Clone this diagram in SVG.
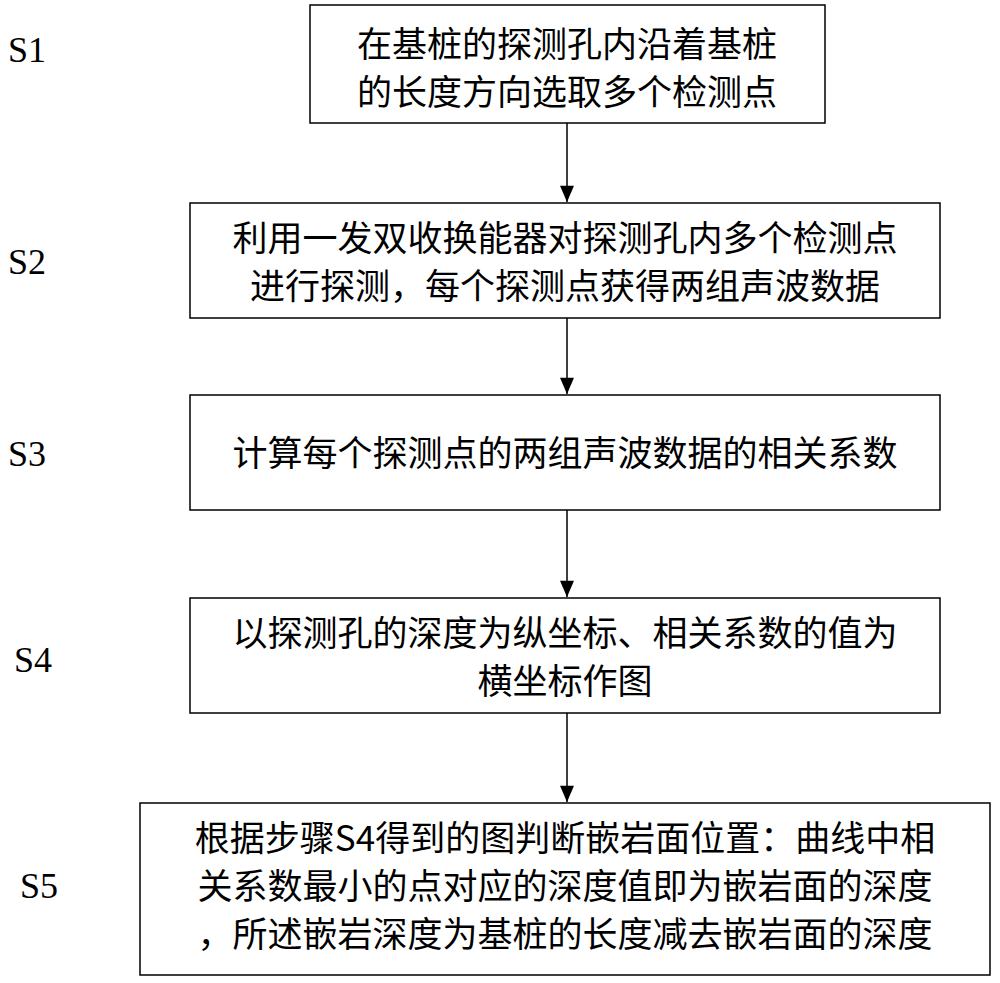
<svg xmlns="http://www.w3.org/2000/svg" width="1000" height="983" viewBox="0 0 1000 983">
<style>
.b{fill:#fff;stroke:#000;stroke-width:1.5}
.t{font-family:"Noto Sans CJK SC","Liberation Serif",serif;font-size:35px;fill:#000;text-anchor:middle}
.s{font-family:"Liberation Serif",serif;font-size:36px;fill:#000}
.c{stroke:#000;stroke-width:1.5;fill:none}
</style>
<defs><marker id="d" viewBox="0 0 14 12" refX="14" refY="6" markerWidth="18" markerHeight="14" orient="auto" markerUnits="userSpaceOnUse"><path d="M0,0L14,6L0,12Z" fill="#000"/></marker></defs>
<g id="labels"><text class="s" x="8" y="62">S1</text><text class="s" x="8" y="274">S2</text><text class="s" x="8" y="466">S3</text><text class="s" x="14" y="672">S4</text><text class="s" x="20" y="898">S5</text></g>
<g id="n1"><rect class="b" x="310" y="5" width="515" height="118"/><text class="t" x="567" y="57">在基桩的探测孔内沿着基桩</text><text class="t" x="567" y="105">的长度方向选取多个检测点</text></g>
<g id="n2"><rect class="b" x="190" y="203" width="750" height="115"/><text class="t" x="565" y="251">利用一发双收换能器对探测孔内多个检测点</text><text class="t" x="565" y="299">进行探测，每个探测点获得两组声波数据</text></g>
<g id="n3"><rect class="b" x="190" y="395" width="750" height="115"/><text class="t" x="565" y="466">计算每个探测点的两组声波数据的相关系数</text></g>
<g id="n4"><rect class="b" x="190" y="598" width="750" height="115"/><text class="t" x="565" y="646">以探测孔的深度为纵坐标、相关系数的值为</text><text class="t" x="565" y="694">横坐标作图</text></g>
<g id="n5"><rect class="b" x="140" y="803" width="850" height="172"/><text class="t" x="565" y="851">根据步骤S4得到的图判断嵌岩面位置：曲线中相</text><text class="t" x="565" y="899">关系数最小的点对应的深度值即为嵌岩面的深度</text><text class="t" x="565" y="947">，所述嵌岩深度为基桩的长度减去嵌岩面的深度</text></g>
<g id="connectors"><path class="c" d="M567,123V202" marker-end="url(#d)"/><path class="c" d="M567,318V394" marker-end="url(#d)"/><path class="c" d="M567,510V597" marker-end="url(#d)"/><path class="c" d="M567,713V802" marker-end="url(#d)"/></g>
</svg>
